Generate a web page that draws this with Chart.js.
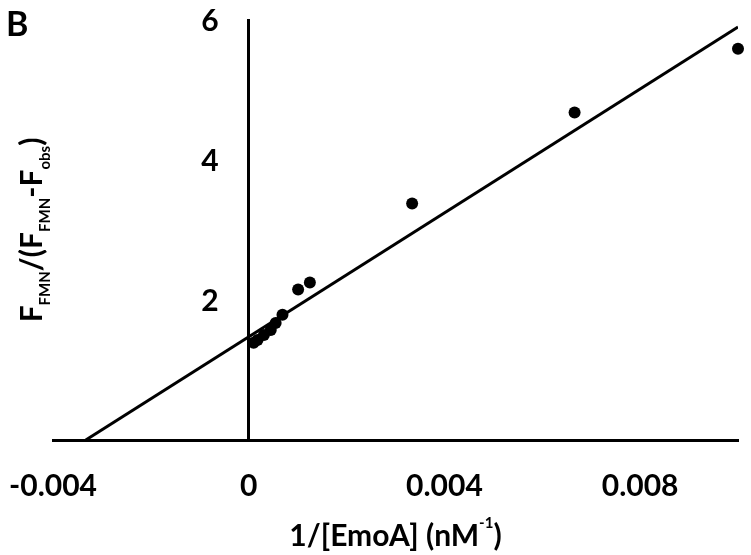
<!DOCTYPE html>
<html>
<head>
<meta charset="utf-8">
<script src="https://cdn.jsdelivr.net/npm/chart.js@4/dist/chart.umd.min.js"></script>
<style>
  html, body { margin: 0; padding: 0; background: #fff; }
  #wrap { width: 751px; height: 555px; }
</style>
</head>
<body>
<div id="wrap"><canvas id="c" width="751" height="555"></canvas></div>
<script>
// measured points: 1/[EmoA] (nM^-1) vs F_FMN/(F_FMN - F_obs)
const inverseEmoA = [0.0001, 0.00018, 0.00031, 0.00045, 0.00055, 0.00069, 0.00101, 0.00125, 0.00334, 0.00666, 0.01];
const fluorRatio  = [1.39, 1.43, 1.50, 1.57, 1.67, 1.79, 2.15, 2.25, 3.38, 4.68, 5.59];

// linear trendline, end points
const trendX = [-0.00333, 0.01];
const trendY = [0, 5.90];

const xTicks = [-0.004, 0, 0.004, 0.008];
const yTicks = [2, 4, 6];

const FONT = 'Lato, "Open Sans", sans-serif';

// draws a row of text pieces (sub/superscripts) centred on cx
function drawRuns(ctx, runs, cx, baseY) {
  let total = 0;
  runs.forEach(function (r) {
    ctx.font = 'bold ' + r.size + 'px ' + FONT;
    r.w = ctx.measureText(r.text).width;
    total += r.w;
  });
  let x = cx - total / 2;
  runs.forEach(function (r) {
    ctx.font = 'bold ' + r.size + 'px ' + FONT;
    ctx.fillText(r.text, x, baseY + (r.shift || 0));
    x += r.w;
  });
}

const annotations = {
  id: 'annotations',
  afterDraw: function (chart) {
    const ctx = chart.ctx;
    const area = chart.chartArea;
    const xs = chart.scales.x;
    const ys = chart.scales.y;
    ctx.save();
    ctx.fillStyle = '#000';

    // y tick labels, set off to the left of the axis line at x = 0
    ctx.font = 'bold 30px ' + FONT;
    ctx.textAlign = 'right';
    ctx.textBaseline = 'middle';
    const axisX = xs.getPixelForValue(0);
    yTicks.forEach(function (v) {
      ctx.fillText(String(v), axisX - 30, ys.getPixelForValue(v) + 1);
    });

    ctx.textBaseline = 'alphabetic';
    ctx.textAlign = 'left';

    // panel letter
    ctx.font = 'bold 34px ' + FONT;
    ctx.fillText('B', 6, 36);

    // x title
    drawRuns(ctx, [
      { text: '1/[EmoA] (nM', size: 30 },
      { text: '-1', size: 15, shift: -18 },
      { text: ')', size: 30 }
    ], (area.left + area.right) / 2, 546);

    // y title, rotated
    ctx.translate(42, (area.top + area.bottom) / 2);
    ctx.rotate(-Math.PI / 2);
    const sub = 8;
    drawRuns(ctx, [
      { text: 'F', size: 30 },
      { text: 'FMN', size: 15, shift: sub },
      { text: '/(F', size: 30 },
      { text: 'FMN', size: 15, shift: sub },
      { text: '-F', size: 30 },
      { text: 'obs', size: 15, shift: sub },
      { text: ')', size: 30 }
    ], 0, 0);
    ctx.restore();
  }
};

const points = inverseEmoA.map(function (v, i) { return { x: v, y: fluorRatio[i] }; });
const trend = trendX.map(function (v, i) { return { x: v, y: trendY[i] }; });

new Chart(document.getElementById('c'), {
  type: 'scatter',
  data: {
    datasets: [
      {
        label: 'data',
        data: points,
        pointRadius: 6,
        pointBackgroundColor: '#000',
        pointBorderWidth: 0,
        showLine: false,
        clip: false,
        order: 0
      },
      {
        label: 'trend',
        data: trend,
        showLine: true,
        borderColor: '#000',
        borderWidth: 3,
        pointRadius: 0,
        order: 1
      }
    ]
  },
  options: {
    responsive: false,
    animation: false,
    devicePixelRatio: 1,
    layout: { padding: { left: 53, right: 13, top: 20, bottom: 0 } },
    plugins: {
      legend: { display: false },
      tooltip: { enabled: false }
    },
    scales: {
      x: {
        type: 'linear',
        position: 'bottom',
        min: -0.004,
        max: 0.01,
        grid: { display: false, drawTicks: false },
        border: { display: true, color: '#000', width: 3 },
        ticks: {
          color: '#000',
          font: { family: FONT, size: 30, weight: 'bold' },
          padding: 28,
          maxRotation: 0,
          autoSkip: false,
          callback: function (v) { return String(+Number(v).toFixed(3)); }
        },
        afterBuildTicks: function (s) { s.ticks = xTicks.map(function (v) { return { value: v }; }); },
        afterFit: function (s) {
          s.height = 115;
          s.paddingLeft = 0;
          s.paddingRight = 0;
        }
      },
      y: {
        type: 'linear',
        position: { x: 0 },
        min: 0,
        max: 6,
        grid: { display: false, drawTicks: false },
        border: { display: true, color: '#000', width: 3 },
        ticks: { display: false },
        afterBuildTicks: function (s) { s.ticks = yTicks.map(function (v) { return { value: v }; }); }
      }
    }
  },
  plugins: [annotations]
});
</script>
</body>
</html>
